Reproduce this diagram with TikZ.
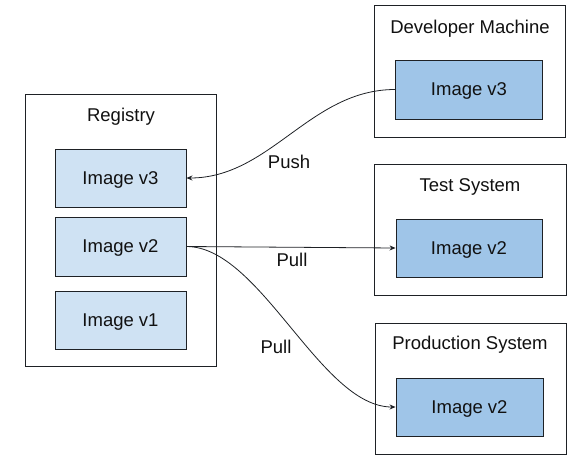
\documentclass[tikz,border=0pt]{standalone}
\usepackage{fontspec}
\setmainfont{Liberation Sans}
\usetikzlibrary{arrows.meta}
\definecolor{lightimg}{HTML}{CFE2F3}
\definecolor{darkimg}{HTML}{9FC5E8}
\definecolor{edge}{HTML}{1E2125}
\definecolor{txt}{HTML}{111111}
\tikzset{
  every node/.style={text depth=0pt},
  container/.style={draw=edge, line width=0.9pt, fill=white, inner sep=0pt},
  imgbox/.style={draw=edge, line width=0.9pt, inner sep=0pt, minimum width=131pt, minimum height=58pt, font=\fontsize{18.5}{20}\selectfont, text=txt},
  regimg/.style={imgbox, fill=lightimg},
  hostimg/.style={imgbox, fill=darkimg, minimum width=147pt},
  title/.style={font=\fontsize{18.5}{20}\selectfont, text=txt, inner sep=0pt},
  lbl/.style={font=\fontsize{18.5}{20}\selectfont, text=txt, inner sep=0pt},
  conn/.style={draw=edge, line width=0.8pt, -{Stealth[length=6pt,width=5pt]}}
}
\begin{document}
\begin{tikzpicture}[x=1pt,y=-1pt]
\useasboundingbox (0,0) rectangle (582,475);
% containers
\node[container, minimum width=191pt, minimum height=272pt] (reg) at (120.5,230) {};
\node[container, minimum width=191pt, minimum height=132pt] (dev) at (469.5,71) {};
\node[container, minimum width=192pt, minimum height=131pt] (test) at (470,229.5) {};
\node[container, minimum width=191pt, minimum height=131pt] (prod) at (470.5,388.5) {};
% titles
\node[title] (regt) at (121,115) {Registry};
\node[title] (devt) at (470,27) {Developer Machine};
\node[title] (testt) at (470,185) {Test System};
\node[title] (prodt) at (470,343) {Production System};
% images
\node[regimg] (rv3) at (120.5,178) {Image v3};
\node[regimg, minimum height=59pt] (rv2) at (120.5,246.5) {Image v2};
\node[regimg] (rv1) at (120.5,320) {Image v1};
\node[hostimg, minimum height=59pt] (dv3) at (469,89.5) {Image v3};
\node[hostimg, minimum width=146pt] (tv2) at (469,248) {Image v2};
\node[hostimg] (pv2) at (469.5,407) {Image v2};
% connectors
\draw[conn] (dv3.west) .. controls +(-85,0) and +(84,0) .. (rv3.east);
\draw[conn] (rv2.east) -- (tv2.west);
\draw[conn] (rv2.east) .. controls +(74,0) and +(-75,0) .. (pv2.west);
% labels
\node[lbl] (push) at (289,162) {Push};
\node[lbl] (pull1) at (292,260) {Pull};
\node[lbl] (pull2) at (276,347) {Pull};
\end{tikzpicture}
\end{document}
